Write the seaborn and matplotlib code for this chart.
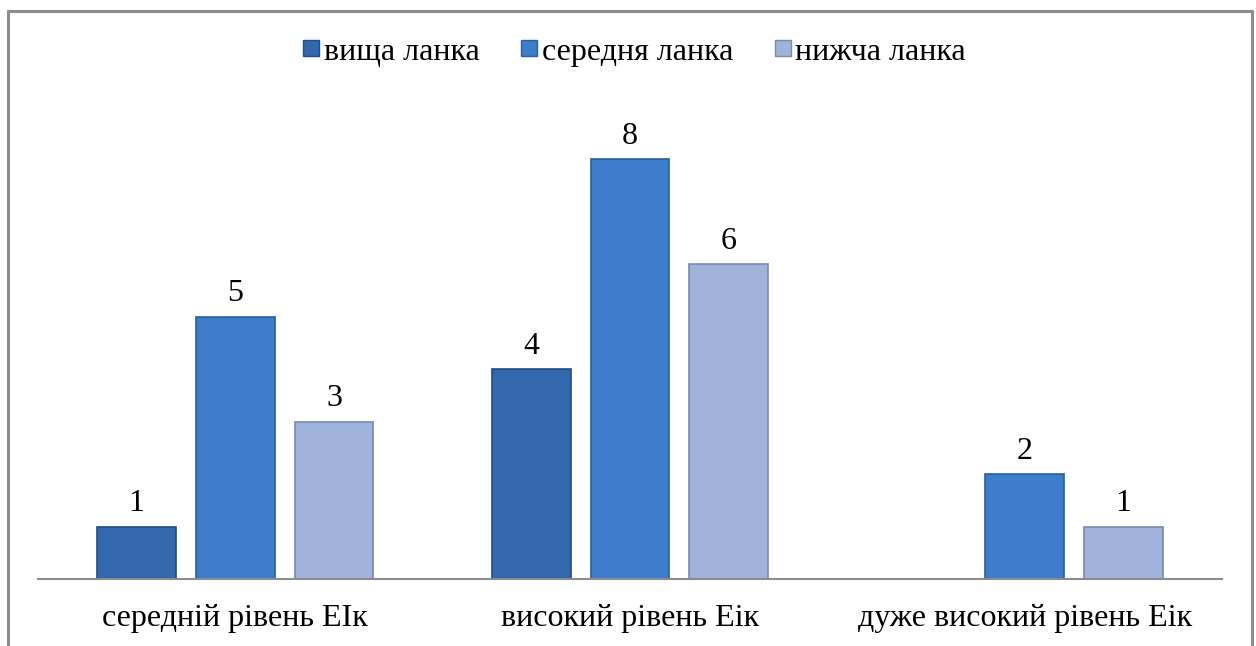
import pandas as pd
import seaborn as sns
import numpy as np
import matplotlib.pyplot as plt
from matplotlib.lines import Line2D

categories = ["середній рівень ЕІк", "високий рівень Еік", "дуже високий рівень Еік"]
groups = ["вища ланка", "середня ланка", "нижча ланка"]
vyshcha = [1, 4, 0]
serednia = [5, 8, 2]
nyzhcha = [3, 6, 1]

colors = ["#3368AC", "#3C7DCC", "#A0B3DA"]
edges = ["#214C84", "#2A5E9E", "#7A8AAE"]

df = pd.DataFrame({
    "category": categories * 3,
    "group": [groups[0]] * 3 + [groups[1]] * 3 + [groups[2]] * 3,
    "value": vyshcha + serednia + nyzhcha,
})

sns.set_style("white")
plt.rcParams["font.family"] = ["Liberation Serif", "DejaVu Serif"]
plt.rcParams["text.color"] = "black"
plt.rcParams["xtick.color"] = "black"

fig = plt.figure(figsize=(12.56, 6.46), dpi=100)
ax = fig.add_axes([38 / 1256, 67 / 646, (1222 - 38) / 1256, 472.5 / 646])

sns.barplot(data=df, x="category", y="value", hue="group", order=categories,
            hue_order=groups, palette=colors, width=0.75, gap=0.2, ax=ax,
            legend=False, saturation=1)

for i, cont in enumerate(ax.containers):
    for bar in cont:
        bar.set_edgecolor(edges[i])
        bar.set_linewidth(1.2)
    labels = [str(int(v)) if v > 0 else "" for v in cont.datavalues]
    ax.bar_label(cont, labels=labels, padding=6, fontsize=23, color="black")

ax.set_xlim(-0.5, 2.5)
ax.set_ylim(0, 9)
ax.set_xlabel("")
ax.set_ylabel("")
ax.set_yticks([])
ax.tick_params(axis="x", length=0, pad=18, labelsize=23, labelcolor="black")
sns.despine(ax=ax, left=True)
ax.spines["bottom"].set_color("#8C8C8C")
ax.spines["bottom"].set_linewidth(1.5)

handles = [Line2D([0], [0], marker="s", linestyle="", markersize=12,
                  markerfacecolor=colors[i], markeredgecolor=edges[i]) for i in range(3)]
fig.legend(handles, groups, loc="center", bbox_to_anchor=(632 / 1256, 1 - 52 / 646),
           ncol=3, frameon=False, fontsize=23, handletextpad=0.0, columnspacing=1.15,
           handlelength=0.8)

# outer frame (bottom edge falls outside the picture)
fx = lambda x: x / 1256
fy = lambda y: 1 - y / 646
for xs, ys in [((8, 1252), (11, 11)), ((8, 8), (11, 660)), ((1252, 1252), (11, 660))]:
    fig.add_artist(Line2D([fx(xs[0]), fx(xs[1])], [fy(ys[0]), fy(ys[1])],
                          color="#8C8C8C", linewidth=2.2, transform=fig.transFigure))

fig.savefig("out.png", dpi=100)
